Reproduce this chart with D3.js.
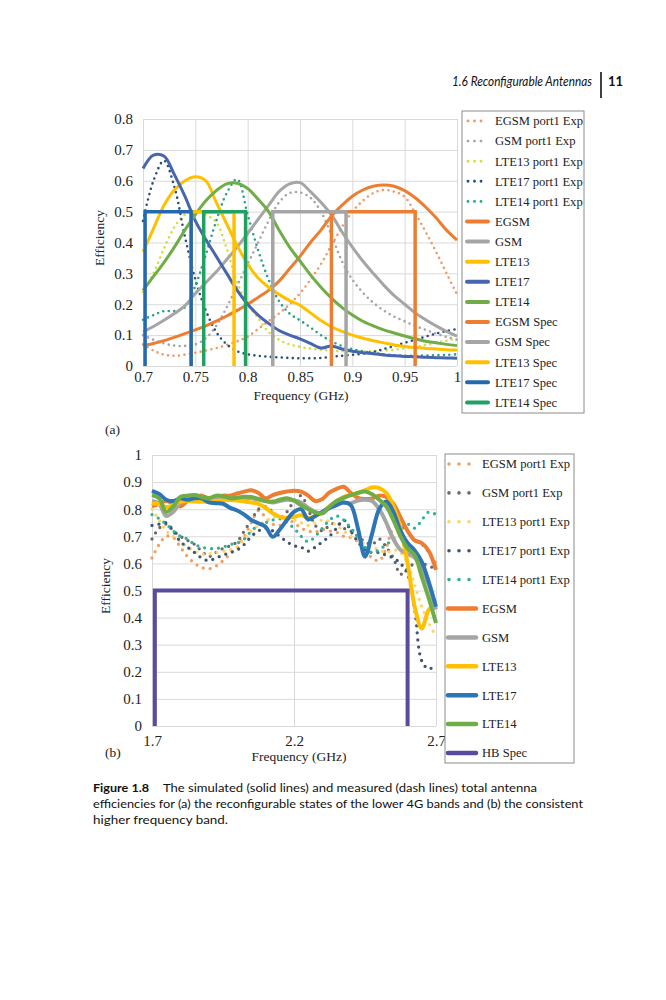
<!DOCTYPE html>
<html>
<head>
<meta charset="utf-8">
<script src="https://cdn.jsdelivr.net/npm/d3@7"></script>
<style>
  body { margin: 0; background: #fff; }
  svg { display: block; }
  .tick text { font-family: "Liberation Serif", "Times New Roman", serif; font-size: 15px; fill: #222; }
  .label { font-family: "Liberation Serif", "Times New Roman", serif; font-size: 13.5px; fill: #222; }
  .legend text { font-family: "Liberation Serif", "Times New Roman", serif; font-size: 12.6px; fill: #222; }
  .sans { font-family: Lato, "Noto Sans", sans-serif; fill: #111; }
</style>
</head>
<body>
<svg id="page" width="666" height="1000"></svg>
<script>
// ---------- panel (a): lower bands ----------
const freqA = [0.70, 0.71, 0.72, 0.73, 0.74, 0.75, 0.76, 0.77, 0.78, 0.79, 0.80,
  0.81, 0.82, 0.83, 0.84, 0.85, 0.86, 0.87, 0.88, 0.89, 0.90,
  0.91, 0.92, 0.93, 0.94, 0.95, 0.96, 0.97, 0.98, 0.99, 1.00];

// measured (dotted)
const egsmExpA = [0.07, 0.05, 0.037, 0.033, 0.037, 0.043, 0.05, 0.058, 0.068, 0.08, 0.095,
  0.12, 0.145, 0.17, 0.2, 0.235, 0.28, 0.33, 0.39, 0.45, 0.5,
  0.535, 0.56, 0.57, 0.565, 0.548, 0.495, 0.435, 0.37, 0.3, 0.232];
const gsmExpA = [0.1, 0.085, 0.073, 0.066, 0.065, 0.07, 0.09, 0.13, 0.19, 0.26, 0.33,
  0.4, 0.47, 0.53, 0.56, 0.562, 0.545, 0.5, 0.425, 0.34, 0.28,
  0.238, 0.205, 0.18, 0.16, 0.145, 0.13, 0.117, 0.105, 0.094, 0.085];
const lte13ExpA = [0.24, 0.3, 0.38, 0.45, 0.49, 0.5, 0.49, 0.465, 0.38, 0.27, 0.2,
  0.155, 0.11, 0.085, 0.07, 0.062, 0.056, 0.052, 0.05, 0.048, 0.047,
  0.047, 0.048, 0.05, 0.053, 0.057, 0.062, 0.068, 0.075, 0.082, 0.09];
const lte17ExpA = [0.47, 0.6, 0.665, 0.58, 0.42, 0.28, 0.18, 0.11, 0.07, 0.048, 0.038,
  0.033, 0.03, 0.028, 0.026, 0.025, 0.025, 0.026, 0.03, 0.033, 0.036,
  0.04, 0.046, 0.055, 0.065, 0.075, 0.085, 0.095, 0.105, 0.113, 0.12];
const lte14ExpA = [0.15, 0.165, 0.178, 0.178, 0.19, 0.26, 0.36, 0.47, 0.56, 0.605, 0.49,
  0.375, 0.28, 0.21, 0.17, 0.148, 0.125, 0.1, 0.08, 0.065, 0.055,
  0.048, 0.042, 0.038, 0.035, 0.033, 0.033, 0.034, 0.035, 0.036, 0.038];

// simulated (solid)
const egsmA = [0.066, 0.073, 0.082, 0.093, 0.105, 0.117, 0.13, 0.145, 0.162, 0.18, 0.2,
  0.222, 0.245, 0.275, 0.315, 0.355, 0.4, 0.44, 0.485, 0.52, 0.55,
  0.57, 0.582, 0.586, 0.582, 0.568, 0.545, 0.515, 0.48, 0.44, 0.408];
const gsmA = [0.11, 0.128, 0.148, 0.17, 0.195, 0.235, 0.27, 0.305, 0.345, 0.385, 0.43,
  0.475, 0.52, 0.565, 0.59, 0.594, 0.565, 0.53, 0.49, 0.435, 0.385,
  0.34, 0.3, 0.262, 0.228, 0.2, 0.172, 0.15, 0.13, 0.112, 0.097];
const lte13A = [0.37, 0.445, 0.52, 0.57, 0.6, 0.613, 0.6, 0.53, 0.46, 0.39, 0.33,
  0.285, 0.255, 0.232, 0.212, 0.197, 0.172, 0.147, 0.127, 0.112, 0.1,
  0.09, 0.082, 0.075, 0.068, 0.063, 0.06, 0.057, 0.055, 0.053, 0.052];
const lte17A = [0.64, 0.683, 0.68, 0.62, 0.55, 0.47, 0.41, 0.355, 0.3, 0.245, 0.2,
  0.165, 0.138, 0.115, 0.1, 0.088, 0.073, 0.058, 0.065, 0.055, 0.048,
  0.043, 0.04, 0.036, 0.033, 0.031, 0.03, 0.028, 0.027, 0.026, 0.025];
const lte14A = [0.245, 0.29, 0.335, 0.385, 0.44, 0.49, 0.535, 0.568, 0.59, 0.592, 0.575,
  0.54, 0.5, 0.44, 0.385, 0.34, 0.295, 0.255, 0.22, 0.19, 0.165,
  0.145, 0.13, 0.117, 0.107, 0.097, 0.088, 0.08, 0.075, 0.07, 0.066];

// band specifications: [start, stop] in GHz, drawn at the spec level
const specLevel = 0.5;
const egsmSpec = [0.88, 0.96];
const gsmSpec = [0.824, 0.894];
const lte13Spec = [0.746, 0.787];
const lte17Spec = [0.702, 0.746];
const lte14Spec = [0.758, 0.798];

const xTicksA = [0.7, 0.75, 0.8, 0.85, 0.9, 0.95, 1];
const yTicksA = [0, 0.1, 0.2, 0.3, 0.4, 0.5, 0.6, 0.7, 0.8];

// ---------- panel (b): high band ----------
const freqB = [1.7, 1.725, 1.75, 1.775, 1.8, 1.825, 1.85, 1.875, 1.9, 1.925,
  1.95, 1.975, 2.0, 2.025, 2.05, 2.075, 2.1, 2.125, 2.15, 2.175,
  2.2, 2.225, 2.25, 2.275, 2.3, 2.325, 2.35, 2.375, 2.4, 2.425,
  2.45, 2.475, 2.5, 2.525, 2.55, 2.575, 2.6, 2.625, 2.65, 2.675, 2.7];

const egsmExpB = [0.62, 0.67, 0.7, 0.695, 0.66, 0.625, 0.6, 0.585, 0.58, 0.59,
  0.61, 0.635, 0.66, 0.7, 0.75, 0.795, 0.77, 0.745, 0.74, 0.76,
  0.75, 0.73, 0.72, 0.715, 0.725, 0.72, 0.715, 0.7, 0.695, 0.68,
  0.65, 0.62, 0.61, 0.66, 0.73, 0.74, 0.72, 0.69, 0.67, 0.64, 0.6];
const gsmExpB = [0.69, 0.73, 0.745, 0.72, 0.7, 0.685, 0.67, 0.645, 0.625, 0.64,
  0.655, 0.665, 0.68, 0.72, 0.76, 0.8, 0.81, 0.79, 0.77, 0.79,
  0.83, 0.85, 0.8, 0.74, 0.72, 0.74, 0.75, 0.73, 0.72, 0.7,
  0.68, 0.67, 0.69, 0.66, 0.62, 0.56, 0.58, 0.6, 0.6, 0.59, 0.58];
const lte13ExpB = [0.8, 0.76, 0.72, 0.7, 0.68, 0.66, 0.645, 0.635, 0.635, 0.64,
  0.645, 0.65, 0.66, 0.69, 0.72, 0.74, 0.755, 0.77, 0.775, 0.77,
  0.76, 0.75, 0.74, 0.75, 0.76, 0.755, 0.74, 0.72, 0.7, 0.69,
  0.67, 0.66, 0.65, 0.64, 0.65, 0.64, 0.6, 0.52, 0.44, 0.38, 0.33];
const lte17ExpB = [0.74, 0.745, 0.75, 0.72, 0.68, 0.66, 0.64, 0.62, 0.61, 0.62,
  0.63, 0.64, 0.65, 0.67, 0.7, 0.72, 0.73, 0.72, 0.7, 0.68,
  0.665, 0.66, 0.645, 0.66, 0.68, 0.7, 0.73, 0.76, 0.72, 0.68,
  0.65, 0.64, 0.64, 0.63, 0.62, 0.6, 0.56, 0.43, 0.24, 0.21, 0.23];
const lte14ExpB = [0.78, 0.765, 0.745, 0.72, 0.7, 0.69, 0.67, 0.66, 0.655, 0.655,
  0.66, 0.67, 0.675, 0.69, 0.72, 0.74, 0.75, 0.76, 0.765, 0.75,
  0.73, 0.7, 0.68, 0.7, 0.73, 0.76, 0.775, 0.76, 0.73, 0.7,
  0.66, 0.64, 0.65, 0.67, 0.69, 0.72, 0.745, 0.73, 0.76, 0.79, 0.78];

const egsmB = [0.81, 0.82, 0.83, 0.82, 0.81, 0.83, 0.845, 0.85, 0.84, 0.845,
  0.85, 0.85, 0.858, 0.865, 0.87, 0.86, 0.84, 0.852, 0.86, 0.865,
  0.868, 0.865, 0.85, 0.83, 0.838, 0.862, 0.875, 0.883, 0.86, 0.842,
  0.838, 0.84, 0.85, 0.845, 0.82, 0.77, 0.72, 0.685, 0.675, 0.645, 0.576];
const gsmB = [0.83, 0.82, 0.775, 0.79, 0.825, 0.835, 0.845, 0.84, 0.838, 0.845,
  0.845, 0.84, 0.84, 0.842, 0.84, 0.835, 0.83, 0.825, 0.83, 0.835,
  0.832, 0.825, 0.805, 0.79, 0.785, 0.805, 0.825, 0.825, 0.822, 0.832,
  0.835, 0.83, 0.8, 0.75, 0.69, 0.65, 0.635, 0.622, 0.58, 0.52, 0.43];
const lte13B = [0.82, 0.82, 0.808, 0.815, 0.828, 0.83, 0.828, 0.828, 0.828, 0.83,
  0.832, 0.834, 0.832, 0.828, 0.825, 0.82, 0.805, 0.785, 0.772, 0.768,
  0.772, 0.778, 0.768, 0.775, 0.79, 0.81, 0.83, 0.846, 0.852, 0.86,
  0.87, 0.88, 0.878, 0.86, 0.81, 0.73, 0.6, 0.44, 0.36, 0.43, 0.45];
const lte17B = [0.868, 0.856, 0.835, 0.83, 0.84, 0.835, 0.84, 0.84, 0.825, 0.822,
  0.82, 0.805, 0.795, 0.78, 0.76, 0.748, 0.735, 0.698, 0.725, 0.76,
  0.79, 0.8, 0.762, 0.775, 0.79, 0.805, 0.815, 0.825, 0.815, 0.73,
  0.625, 0.71, 0.8, 0.828, 0.79, 0.72, 0.675, 0.648, 0.606, 0.53, 0.44];
const lte14B = [0.852, 0.84, 0.79, 0.81, 0.845, 0.85, 0.852, 0.845, 0.84, 0.85,
  0.848, 0.84, 0.842, 0.846, 0.845, 0.838, 0.83, 0.828, 0.835, 0.84,
  0.832, 0.815, 0.8, 0.788, 0.785, 0.81, 0.83, 0.842, 0.852, 0.86,
  0.865, 0.855, 0.835, 0.81, 0.76, 0.7, 0.655, 0.63, 0.55, 0.47, 0.38];

const hbSpec = [1.71, 2.6];

const xTicksB = [1.7, 2.2, 2.7];
const yTicksB = [0, 0.1, 0.2, 0.3, 0.4, 0.5, 0.6, 0.7, 0.8, 0.9, 1];

// ---------- series tables ----------
const seriesA = [
  { name: 'EGSM port1 Exp', kind: 'exp', values: egsmExpA, color: '#ef9a6a' },
  { name: 'GSM port1 Exp', kind: 'exp', values: gsmExpA, color: '#aaa3ad' },
  { name: 'LTE13 port1 Exp', kind: 'exp', values: lte13ExpA, color: '#d6dc3a' },
  { name: 'LTE17 port1 Exp', kind: 'exp', values: lte17ExpA, color: '#28507e' },
  { name: 'LTE14 port1 Exp', kind: 'exp', values: lte14ExpA, color: '#27a38c' },
  { name: 'EGSM', kind: 'sim', values: egsmA, color: '#ed7d31' },
  { name: 'GSM', kind: 'sim', values: gsmA, color: '#a5a5a5' },
  { name: 'LTE13', kind: 'sim', values: lte13A, color: '#ffc000' },
  { name: 'LTE17', kind: 'sim', values: lte17A, color: '#4766ad' },
  { name: 'LTE14', kind: 'sim', values: lte14A, color: '#70ad47' },
  { name: 'EGSM Spec', kind: 'spec', band: egsmSpec, color: '#ed7d31' },
  { name: 'GSM Spec', kind: 'spec', band: gsmSpec, color: '#a5a5a5' },
  { name: 'LTE13 Spec', kind: 'spec', band: lte13Spec, color: '#ffc000' },
  { name: 'LTE17 Spec', kind: 'spec', band: lte17Spec, color: '#2468ad' },
  { name: 'LTE14 Spec', kind: 'spec', band: lte14Spec, color: '#21a064' }
];

const seriesB = [
  { name: 'EGSM port1 Exp', kind: 'exp', values: egsmExpB, color: '#f0a060' },
  { name: 'GSM port1 Exp', kind: 'exp', values: gsmExpB, color: '#6a6a6a' },
  { name: 'LTE13 port1 Exp', kind: 'exp', values: lte13ExpB, color: '#fcd46a' },
  { name: 'LTE17 port1 Exp', kind: 'exp', values: lte17ExpB, color: '#3c5673' },
  { name: 'LTE14 port1 Exp', kind: 'exp', values: lte14ExpB, color: '#2db39b' },
  { name: 'EGSM', kind: 'sim', values: egsmB, color: '#ed7d31' },
  { name: 'GSM', kind: 'sim', values: gsmB, color: '#a5a5a5' },
  { name: 'LTE13', kind: 'sim', values: lte13B, color: '#ffc000' },
  { name: 'LTE17', kind: 'sim', values: lte17B, color: '#2e75b6' },
  { name: 'LTE14', kind: 'sim', values: lte14B, color: '#70ad47' },
  { name: 'HB Spec', kind: 'spec', band: hbSpec, color: '#5b4b9e' }
];

const svg = d3.select('#page');

function drawPanel(opt) {
  const g = svg.append('g');
  const x = d3.scaleLinear().domain(opt.xDomain).range([opt.left, opt.right]);
  const y = d3.scaleLinear().domain(opt.yDomain).range([opt.bottom, opt.top]);

  // gridlines
  g.append('g')
    .attr('transform', `translate(${opt.left},0)`)
    .call(d3.axisLeft(y).tickValues(opt.yTicks).tickSize(-(opt.right - opt.left)).tickFormat(''))
    .call(s => s.select('.domain').remove())
    .call(s => s.selectAll('line').attr('stroke', '#d9d9d9'));
  g.append('g')
    .attr('transform', `translate(0,${opt.bottom})`)
    .call(d3.axisBottom(x).tickValues(opt.xTicks).tickSize(-(opt.bottom - opt.top)).tickFormat(''))
    .call(s => s.select('.domain').remove())
    .call(s => s.selectAll('line').attr('stroke', '#d9d9d9'));

  // tick labels
  g.append('g')
    .attr('transform', `translate(${opt.left},0)`)
    .call(d3.axisLeft(y).tickValues(opt.yTicks).tickSize(0).tickPadding(10).tickFormat(d => String(d)))
    .call(s => s.select('.domain').remove());
  g.append('g')
    .attr('transform', `translate(0,${opt.bottom})`)
    .call(d3.axisBottom(x).tickValues(opt.xTicks).tickSize(0).tickPadding(opt.xPad).tickFormat(d => String(d)))
    .call(s => s.select('.domain').remove());

  // axis titles
  g.append('text').attr('class', 'label')
    .attr('transform', `translate(${opt.yLabel[0]},${opt.yLabel[1]}) rotate(-90)`)
    .attr('text-anchor', 'middle').text('Efficiency');
  g.append('text').attr('class', 'label')
    .attr('x', opt.xLabel[0]).attr('y', opt.xLabel[1])
    .attr('text-anchor', 'middle').text('Frequency (GHz)');
  g.append('text').attr('class', 'label')
    .attr('x', opt.tag[0]).attr('y', opt.tag[1]).text(opt.tagText);

  // series
  const line = d3.line()
    .x((d, i) => x(opt.freq[i]))
    .y(d => y(d))
    .curve(d3.curveCatmullRom.alpha(0.5));
  const specLine = d3.line().x(d => x(d[0])).y(d => y(d[1]));

  const marks = g.append('g');
  opt.series.forEach(s => {
    if (s.kind === 'spec') {
      const pts = [[s.band[0], 0], [s.band[0], specLevel], [s.band[1], specLevel], [s.band[1], 0]];
      marks.append('path').attr('d', specLine(pts))
        .attr('fill', 'none').attr('stroke', s.color)
        .attr('stroke-width', opt.specWidth).attr('stroke-linejoin', 'miter');
    } else if (s.kind === 'sim') {
      marks.append('path').attr('d', line(s.values))
        .attr('fill', 'none').attr('stroke', s.color)
        .attr('stroke-width', opt.simWidth).attr('stroke-linejoin', 'round');
    } else {
      marks.append('path').attr('d', line(s.values))
        .attr('fill', 'none').attr('stroke', s.color)
        .attr('stroke-width', opt.dotSize).attr('stroke-linecap', 'round')
        .attr('stroke-dasharray', `0,${opt.dotGap}`);
    }
  });

  // legend
  const lg = g.append('g').attr('class', 'legend');
  lg.append('rect')
    .attr('x', opt.legend.x).attr('y', opt.legend.y)
    .attr('width', opt.legend.w).attr('height', opt.legend.h)
    .attr('fill', '#fff').attr('stroke', '#8c8c8c').attr('stroke-width', 1);
  opt.series.forEach((s, i) => {
    const cy = opt.legend.first + i * opt.legend.step;
    const item = lg.append('g');
    if (s.kind === 'exp') {
      item.append('line')
        .attr('x1', opt.legend.dotX).attr('x2', opt.legend.dotX + 2 * opt.legend.dotGap + 0.5)
        .attr('y1', cy).attr('y2', cy)
        .attr('stroke', s.color).attr('stroke-width', opt.dotSize + 0.3)
        .attr('stroke-linecap', 'round').attr('stroke-dasharray', `0,${opt.legend.dotGap}`);
    } else {
      item.append('line')
        .attr('x1', opt.legend.lineX[0]).attr('x2', opt.legend.lineX[1])
        .attr('y1', cy).attr('y2', cy)
        .attr('stroke', s.color).attr('stroke-width', opt.legend.lineW)
        .attr('stroke-linecap', 'round');
    }
    item.append('text').attr('x', opt.legend.textX).attr('y', cy + 4.3).text(s.name);
  });
}

drawPanel({
  freq: freqA, series: seriesA,
  xDomain: [0.7, 1], yDomain: [0, 0.8],
  left: 143, right: 457, top: 119, bottom: 366,
  xTicks: xTicksA, yTicks: yTicksA, xPad: 5,
  yLabel: [104, 238], xLabel: [301, 400], tag: [105, 434], tagText: '(a)',
  simWidth: 3, specWidth: 3.5, dotSize: 2.6, dotGap: 5.5,
  legend: { x: 462, y: 111, w: 122, h: 302, first: 121, step: 20.1,
    dotX: 468, dotGap: 6.5, lineX: [467, 488], lineW: 4, textX: 495 }
});

drawPanel({
  freq: freqB, series: seriesB,
  xDomain: [1.7, 2.7], yDomain: [0, 1],
  left: 152, right: 436, top: 455, bottom: 726,
  xTicks: xTicksB, yTicks: yTicksB, xPad: 9,
  yLabel: [110, 586], xLabel: [299, 761], tag: [105, 757], tagText: '(b)',
  simWidth: 4, specWidth: 4, dotSize: 3.3, dotGap: 7,
  legend: { x: 445, y: 454, w: 129, h: 309, first: 464, step: 28.9,
    dotX: 449, dotGap: 10, lineX: [448, 476], lineW: 4.5, textX: 482 }
});

// running header
svg.append('text').attr('class', 'sans')
  .attr('x', 592).attr('y', 86).attr('text-anchor', 'end')
  .attr('font-size', 12.5).attr('font-style', 'italic')
  .attr('textLength', 140).attr('lengthAdjust', 'spacingAndGlyphs')
  .text('1.6  Reconfigurable Antennas');
svg.append('line').attr('x1', 601).attr('x2', 601).attr('y1', 72).attr('y2', 98)
  .attr('stroke', '#111').attr('stroke-width', 1.6);
svg.append('text').attr('class', 'sans')
  .attr('x', 608).attr('y', 86).attr('font-size', 13).attr('font-weight', 'bold')
  .text('11');

// caption
const cap = svg.append('g').attr('class', 'sans').attr('font-size', 12);
cap.append('text').attr('x', 93).attr('y', 792).attr('font-weight', 'bold')
  .attr('textLength', 56).attr('lengthAdjust', 'spacingAndGlyphs').text('Figure 1.8');
cap.append('text').attr('x', 163).attr('y', 792)
  .attr('textLength', 374).attr('lengthAdjust', 'spacingAndGlyphs')
  .text('The simulated (solid lines) and measured (dash lines) total antenna');
cap.append('text').attr('x', 93).attr('y', 808)
  .attr('textLength', 490).attr('lengthAdjust', 'spacingAndGlyphs')
  .text('efficiencies for (a) the reconfigurable states of the lower 4G bands and (b) the consistent');
cap.append('text').attr('x', 93).attr('y', 824)
  .attr('textLength', 135).attr('lengthAdjust', 'spacingAndGlyphs')
  .text('higher frequency band.');
</script>
</body>
</html>
